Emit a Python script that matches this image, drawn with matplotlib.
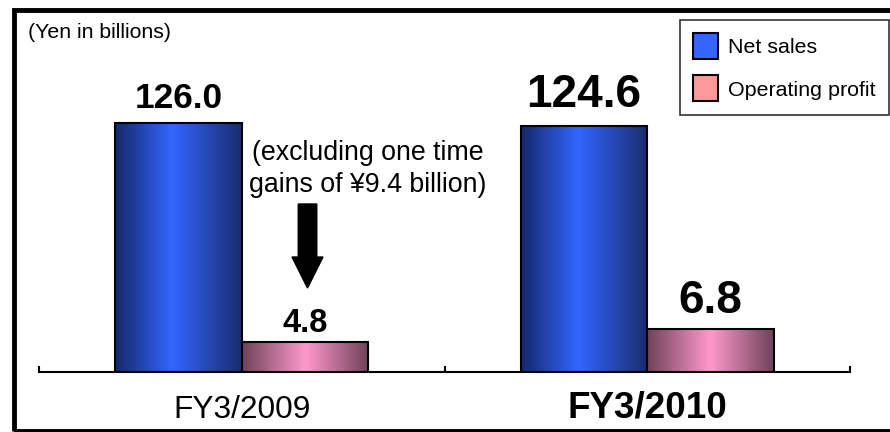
import numpy as np
import matplotlib
matplotlib.use("Agg")
import matplotlib.pyplot as plt
from matplotlib.patches import Patch, Rectangle
from matplotlib.colors import LinearSegmentedColormap

plt.rcParams['font.family'] = ['Liberation Sans', 'DejaVu Sans']

categories = ["FY3/2009", "FY3/2010"]
net_sales = [126.0, 124.6]
operating_profit = [4.8, 6.8]
sales_labels = ["126.0", "124.6"]
profit_labels = ["4.8", "6.8"]
series_names = ["Net sales", "Operating profit"]
note_text = "(excluding one time\ngains of ¥9.4 billion)"
unit_text = "(Yen in billions)"

W, H = 890, 432
fig = plt.figure(figsize=(W / 100, H / 100), dpi=100)
fig.patch.set_facecolor("white")

ax_l, ax_r, ax_b, ax_t = 39, 850, 372, 56
ax = fig.add_axes([ax_l / W, (H - ax_b) / H, (ax_r - ax_l) / W, (ax_b - ax_t) / H])
ax2 = ax.twinx()

blue_cmap = LinearSegmentedColormap.from_list(
    "b", [(0, "#15286a"), (0.45, "#3366ff"), (1, "#1a2c6e")])
pink_cmap = LinearSegmentedColormap.from_list(
    "p", [(0, "#6e4258"), (0.5, "#ff99cc"), (1, "#6e4258")])

bw = 0.3125
x = np.arange(len(categories))


def grad_bars(a, xs, vals, cmap, z):
    bars = a.bar(xs, vals, width=bw, facecolor="none", edgecolor="black",
                 linewidth=1.5, zorder=z + 1)
    grad = np.linspace(0, 1, 256).reshape(1, -1)
    for b in bars:
        x0 = b.get_x()
        im = a.imshow(grad, cmap=cmap, extent=(x0, x0 + b.get_width(), 0, b.get_height()),
                      aspect="auto", zorder=z, interpolation="bilinear")
        im.set_clip_path(b)
    return bars


b1 = grad_bars(ax, x - bw / 2, net_sales, blue_cmap, 2)
b2 = grad_bars(ax2, x + bw / 2, operating_profit, pink_cmap, 2)

ax.set_xlim(-0.5, 1.5)
ax.set_ylim(0, 160)
ax2.set_ylim(0, 50)
ax2.set_xlim(-0.5, 1.5)

for a in (ax, ax2):
    for s in ("top", "left", "right"):
        a.spines[s].set_visible(False)
    a.set_yticks([])
    a.patch.set_visible(False)
ax2.spines["bottom"].set_visible(False)
ax.spines["bottom"].set_linewidth(1.5)

ax.set_xticks([-0.5, 0.5, 1.5])
ax.set_xticklabels([])
ax.tick_params(axis="x", direction="in", length=4, width=1.5)

# category labels
label_sizes = [22.8, 26.6]
label_weights = ["normal", "bold"]
for i, c in enumerate(categories):
    ax.annotate(c, xy=(i, 0), xycoords=ax.get_xaxis_transform(),
                xytext=(0, -46), textcoords="offset pixels",
                ha="center", va="baseline", fontsize=label_sizes[i],
                fontweight=label_weights[i], annotation_clip=False)

# value labels
sales_sizes = [25.4, 33]
sales_offsets = [15, 19]
for i, (b, t) in enumerate(zip(b1, sales_labels)):
    ax.annotate(t, xy=(b.get_x() + bw / 2, b.get_height()), xytext=(0, sales_offsets[i]),
                textcoords="offset pixels", ha="center", va="baseline",
                fontsize=sales_sizes[i], fontweight="bold", annotation_clip=False)
profit_sizes = [23.5, 33]
profit_offsets = [10, 16]
for i, (b, t) in enumerate(zip(b2, profit_labels)):
    ax2.annotate(t, xy=(b.get_x() + bw / 2, b.get_height()), xytext=(0, profit_offsets[i]),
                 textcoords="offset pixels", ha="center", va="baseline",
                 fontsize=profit_sizes[i], fontweight="bold", annotation_clip=False)

# note and arrow
fig.text(368 / W, 1 - 169 / H, note_text, ha="center", va="center", fontsize=19.3,
         linespacing=1.25)
fig.patches.append(matplotlib.patches.FancyArrow(
    307.5 / W, 1 - 204 / H, 0, -(288 - 204) / H, width=9 / H, head_width=31 / W,
    head_length=31 / H, length_includes_head=True, color="black",
    transform=fig.transFigure))

fig.text(28 / W, 1 - 32 / H, unit_text, ha="left", va="center", fontsize=15.3)

# legend
handles = [Patch(facecolor="#3366ff", edgecolor="black", linewidth=1.5),
           Patch(facecolor="#ff9999", edgecolor="black", linewidth=1.5)]
leg = fig.legend(handles, series_names, loc="upper right",
                 bbox_to_anchor=(889 / W, 1 - 20 / H), bbox_transform=fig.transFigure,
                 fontsize=15.4, frameon=True, fancybox=False, edgecolor="black",
                 borderaxespad=0, handlelength=1.2, handleheight=1.5,
                 handletextpad=0.45, labelspacing=0.75, borderpad=0.62)
leg.get_frame().set_linewidth(1.2)

# outer frame
fig.patches.append(Rectangle((13.5 / W, 1.5 / H), (W + 10) / W, (H - 11.5) / H,
                             transform=fig.transFigure, fill=False,
                             edgecolor="black", linewidth=3.5))

fig.savefig("out.png", dpi=100)
